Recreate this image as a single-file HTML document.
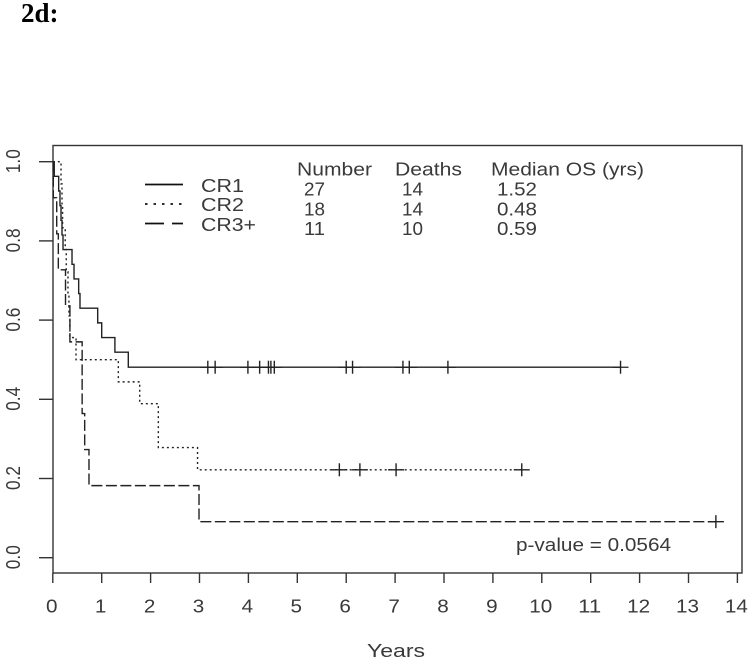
<!DOCTYPE html>
<html>
<head>
<meta charset="utf-8">
<style>
html,body{margin:0;padding:0;background:#fff;}
svg{display:block;}
text{font-family:"Liberation Sans",sans-serif;fill:#3a3a3a;font-size:18px;}
</style>
</head>
<body>
<svg id="chart" width="750" height="660" viewBox="0 0 750 660" xmlns="http://www.w3.org/2000/svg">
  <text x="21" y="22" style="font-family:'Liberation Serif',serif;font-weight:bold;font-size:27px;fill:#000;">2d:</text>
  <rect x="53" y="145.5" width="689" height="427.5" fill="none" stroke="#333" stroke-width="1.4"/>
  <g id="axes"></g>
  <g id="series"></g>
  <g id="censors"></g>
  <g>
    <line x1="145" y1="184.5" x2="183" y2="184.5" stroke="#111" stroke-width="1.8"/>
    <line x1="145" y1="204" x2="183" y2="204" stroke="#111" stroke-width="1.8" stroke-dasharray="2.5 6"/>
    <line x1="145" y1="223.5" x2="183" y2="223.5" stroke="#111" stroke-width="1.8" stroke-dasharray="19 8 11 0"/>
    <text x="201" y="192" textLength="43" lengthAdjust="spacingAndGlyphs">CR1</text>
    <text x="201" y="211" textLength="43" lengthAdjust="spacingAndGlyphs">CR2</text>
    <text x="201" y="231" textLength="55" lengthAdjust="spacingAndGlyphs">CR3+</text>
  </g>
  <g>
    <text x="297" y="175.5" textLength="75" lengthAdjust="spacingAndGlyphs">Number</text>
    <text x="395" y="175.5" textLength="67" lengthAdjust="spacingAndGlyphs">Deaths</text>
    <text x="491" y="175.5" textLength="153" lengthAdjust="spacingAndGlyphs">Median OS (yrs)</text>
    <text x="304" y="195.5" textLength="21" lengthAdjust="spacingAndGlyphs">27</text>
    <text x="402" y="195.5" textLength="21" lengthAdjust="spacingAndGlyphs">14</text>
    <text x="497" y="195.5" textLength="40" lengthAdjust="spacingAndGlyphs">1.52</text>
    <text x="304" y="215.5" textLength="21" lengthAdjust="spacingAndGlyphs">18</text>
    <text x="402" y="215.5" textLength="21" lengthAdjust="spacingAndGlyphs">14</text>
    <text x="497" y="215.5" textLength="40" lengthAdjust="spacingAndGlyphs">0.48</text>
    <text x="304" y="235" textLength="21" lengthAdjust="spacingAndGlyphs">11</text>
    <text x="402" y="235" textLength="21" lengthAdjust="spacingAndGlyphs">10</text>
    <text x="497" y="235" textLength="40" lengthAdjust="spacingAndGlyphs">0.59</text>
  </g>
  <text x="516" y="551" textLength="155" lengthAdjust="spacingAndGlyphs">p-value = 0.0564</text>
  <text x="367" y="657" textLength="58" lengthAdjust="spacingAndGlyphs">Years</text>
</svg>
<script>
var xTickLabels = [0,1,2,3,4,5,6,7,8,9,10,11,12,13,14];
var yTickLabels = ["0.0","0.2","0.4","0.6","0.8","1.0"];
var yTickValues = [0,0.2,0.4,0.6,0.8,1];

var cr1Times = [0.03,0.12,0.147,0.168,0.188,0.209,0.393,0.434,0.529,0.556,0.918,1.0,1.27,1.544];
var cr1Surv  = [0.963,0.926,0.889,0.852,0.815,0.778,0.741,0.704,0.667,0.630,0.593,0.556,0.519,0.481];
var cr1Censor = [3.17,3.32,3.99,4.23,4.41,4.46,4.53,6.0,6.13,7.16,7.29,8.08,11.61];

var cr2Times = [0.168,0.188,0.2,0.254,0.275,0.31,0.33,0.35,0.475,1.34,1.777,2.158,2.96];
var cr2Surv  = [0.944,0.889,0.833,0.778,0.722,0.667,0.611,0.556,0.5,0.444,0.389,0.278,0.222];
var cr2Censor = [5.86,6.28,7.02,9.59];

var cr3Times = [0.01,0.08,0.113,0.26,0.35,0.6,0.652,0.74,2.99];
var cr3Surv  = [0.909,0.818,0.727,0.636,0.545,0.364,0.273,0.182,0.091];
var cr3Censor = [13.56];

function xScale(t){ return 52.8 + t * 48.9; }
function yScale(v){ return 557.7 - v * 396; }

var NS = "http://www.w3.org/2000/svg";
var axes = document.getElementById("axes");
var seriesGroup = document.getElementById("series");
var censors = document.getElementById("censors");

function line(parent, x1, y1, x2, y2, color, width){
  var el = document.createElementNS(NS, "line");
  el.setAttribute("x1", x1);
  el.setAttribute("y1", y1);
  el.setAttribute("x2", x2);
  el.setAttribute("y2", y2);
  el.setAttribute("stroke", color);
  el.setAttribute("stroke-width", width);
  parent.appendChild(el);
  return el;
}

xTickLabels.forEach(function(v){
  var px = xScale(v);
  var tick = line(axes, px, 573, px, 583, "#333", 1.4);
  
  
  var label = document.createElementNS(NS, "text");
  
  
  var w = String(v).length * 11.5;
  label.setAttribute("x", px - 1 - w / 2);
  label.setAttribute("y", 612.5);
  label.setAttribute("textLength", w);
  label.setAttribute("lengthAdjust", "spacingAndGlyphs");
  label.textContent = v;
  axes.appendChild(label);
});

yTickValues.forEach(function(v, i){
  var py = yScale(v);
  var tick = line(axes, 39, py, 53, py, "#333", 1.4);
  
  
  var label = document.createElementNS(NS, "text");
  
  
  label.setAttribute("transform", "translate(20," + (py + 11.5) + ") rotate(-90)");
  label.setAttribute("textLength", "24");
  label.setAttribute("lengthAdjust", "spacingAndGlyphs");
  label.style.fontSize = "20px";
  label.textContent = yTickLabels[i];
  axes.appendChild(label);
});

function drawSeries(name, times, surv, censorTimes, dash, endTime){
  var d = "M" + xScale(0) + " " + yScale(1);
  var current = 1;
  times.forEach(function(t, i){
    d += "L" + xScale(t) + " " + yScale(current);
    current = surv[i];
    d += "L" + xScale(t) + " " + yScale(current);
  });
  d += "L" + xScale(endTime) + " " + yScale(current);
  var path = document.createElementNS(NS, "path");
  
  
  path.setAttribute("data-series", name);
  path.setAttribute("d", d);
  path.setAttribute("fill", "none");
  path.setAttribute("stroke", "#222");
  path.setAttribute("stroke-width", "1.4");
  if (dash) path.setAttribute("stroke-dasharray", dash);
  seriesGroup.appendChild(path);

  censorTimes.forEach(function(t){
    var px = xScale(t);
    var level = 1;
    times.forEach(function(s, i){ if (s <= t) level = surv[i]; });
    var py = yScale(level);
    var v = line(censors, px, py - 6.5, px, py + 6.5, "#222", 1.4);
    
    
    var h = line(censors, px - 8, py, px + 8, py, "#222", 1.3);
    
    
  });
}

drawSeries("CR1", cr1Times, cr1Surv, cr1Censor, "", cr1Censor[cr1Censor.length - 1]);
drawSeries("CR2", cr2Times, cr2Surv, cr2Censor, "2 3", cr2Censor[cr2Censor.length - 1]);
drawSeries("CR3+", cr3Times, cr3Surv, cr3Censor, "11 3.5", cr3Censor[cr3Censor.length - 1]);
</script>
</body>
</html>
